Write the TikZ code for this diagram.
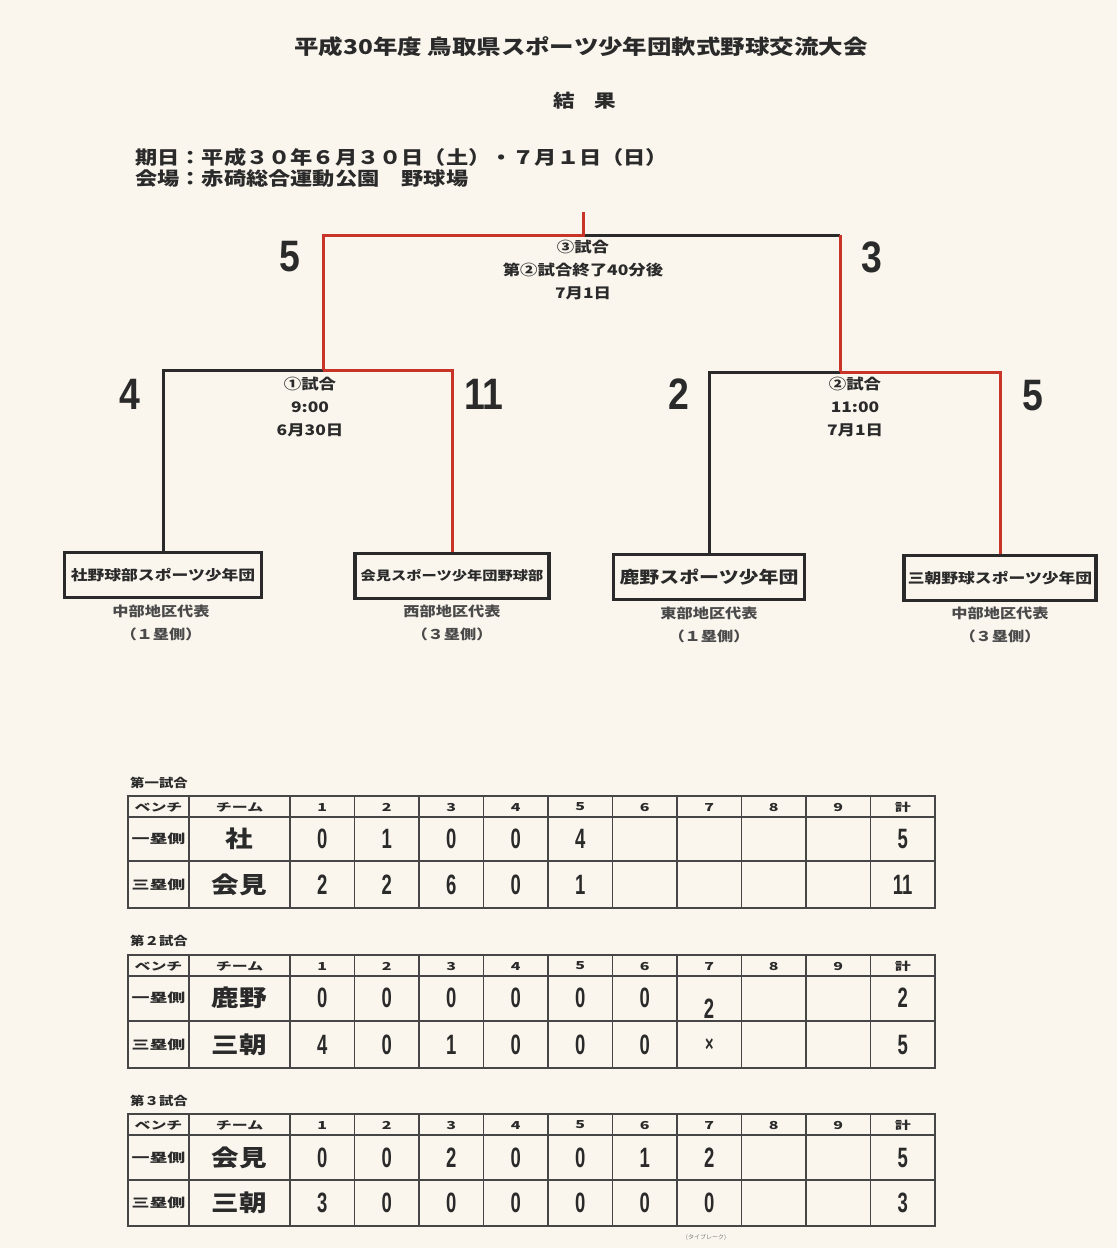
\documentclass[tikz,border=0pt]{standalone}
\usepackage{fontspec}
\setmainfont{Noto Sans CJK JP}
\newfontfamily\jpw{Noto Sans CJK JP}[FakeStretch=1.2]
\newfontfamily\jpx{Noto Sans CJK JP}[FakeStretch=1.45]
\newfontfamily\num{Liberation Sans}[FakeStretch=0.85]
\newfontfamily\tnum{Liberation Sans}[FakeStretch=0.66]
\definecolor{bg}{RGB}{250,246,238}
\definecolor{ink}{RGB}{42,42,42}
\definecolor{redl}{RGB}{200,52,40}
\definecolor{gridc}{RGB}{70,70,70}
\newcommand\fs[2]{\fontsize{#1}{#2}\selectfont}
\tikzset{
  txt/.style={inner sep=0pt, text=ink, align=center},
  loser/.style={line width=3pt, draw=ink},
  winner/.style={line width=3pt, draw=redl},
  teambox/.style={draw=ink, line width=3.2pt, minimum height=45pt, inner sep=0pt, text=ink, font={\jpw\bfseries\fs{14}{16}}},
  score/.style={txt, font={\num\bfseries\fs{44}{48}}},
  glabel/.style={txt, font={\jpw\bfseries\fs{14.5}{23}}},
  region/.style={txt, font={\jpw\bfseries\fs{13.5}{16}}, text=ink!85},
  outer/.style={line width=2.4pt, draw=gridc},
  inner/.style={line width=1.3pt, draw=gridc},
  hd/.style={txt, font={\jpx\bfseries\fs{11}{12}}},
  bench/.style={txt, font={\jpx\bfseries\fs{12.4}{14}}},
  tteam/.style={txt, font={\jpw\bfseries\fs{23}{26}}},
  tdig/.style={txt, font={\tnum\bfseries\fs{28}{30}}},
  tlabel/.style={txt, anchor=west, font={\jpw\bfseries\fs{12}{14}}},
}
\newcommand\scoregrid[5]{% id, top, header line, middle line, bottom
  \draw[inner] (128,#3) -- (935,#3);
  \draw[inner] (128,#4) -- (935,#4);
  \draw[inner] (189,#2) -- (189,#5);
  \draw[inner] (290,#2) -- (290,#5);
  \foreach \k in {1,...,9} {\draw[inner] ({290+64.5*\k},#2) -- ({290+64.5*\k},#5);}
  \draw[outer] (128,#2) rectangle (935,#5);
}
\newcommand\scorehead[2]{% id, y
  \node[hd] (#1h0) at (158.5,#2) {ベンチ};
  \node[hd] (#1hT) at (239.5,#2) {チーム};
  \foreach \s [count=\i] in {1,2,3,4,5,6,7,8,9,計} {\node[hd] (#1h\i) at ({290+64.5*(\i-0.5)},#2) {\s};}
}
\newcommand\scorerow[5]{% id, y, bench, team, scores
  \node[bench] (#1b) at (158.5,#2) {#3};
  \node[tteam] (#1t) at (239.5,#2) {#4};
  \foreach \s [count=\i] in {#5} {\node[tdig] (#1c\i) at ({290+64.5*(\i-0.5)},#2) {\s};}
}
\begin{document}
\begin{tikzpicture}[x=1pt,y=-1pt]
\fill[bg] (0,0) rectangle (1117,1248);
\useasboundingbox (0,0) rectangle (1117,1248);

% headings
\node[txt, font={\jpw\bfseries\fs{20.4}{24}}] (title) at (581,47) {平成30年度 鳥取県スポーツ少年団軟式野球交流大会};
\node[txt, font={\jpw\bfseries\fs{18}{22}}] (result) at (585,101) {結\hspace{20pt}果};
\node[txt, anchor=west, font={\jpw\bfseries\fs{18.5}{21}}] (date) at (135,157) {期日：平成３０年６月３０日（土）・７月１日（日）};
\node[txt, anchor=west, font={\jpw\bfseries\fs{18.5}{21}}] (venue) at (135,179) {会場：赤碕総合運動公園　野球場};

% team boxes
\node[teambox, minimum width=197pt] (b1) at (163,575) {社野球部スポーツ少年団};
\node[teambox, minimum width=194pt, font={\jpw\bfseries\fs{12.7}{15}}] (b2) at (452,576) {会見スポーツ少年団野球部};
\node[teambox, minimum width=191pt, font={\jpw\bfseries\fs{16.6}{19}}] (b3) at (709,577) {鹿野スポーツ少年団};
\node[teambox, minimum width=192pt] (b4) at (1000,578) {三朝野球スポーツ少年団};

\node[region] (r1) at (161,611) {中部地区代表};
\node[region] (s1) at (161,634) {（１塁側）};
\node[region] (r2) at (452,611) {西部地区代表};
\node[region] (s2) at (452,634) {（３塁側）};
\node[region] (r3) at (709,613) {東部地区代表};
\node[region] (s3) at (709,636) {（１塁側）};
\node[region] (r4) at (1000,613) {中部地区代表};
\node[region] (s4) at (1000,636) {（３塁側）};

% bracket
\coordinate (top) at (583,212);
\coordinate (fj) at (583,235);
\coordinate (fl) at (323,235);
\coordinate (fr) at (840,235);
\coordinate (sl) at (323,370);
\coordinate (sr) at (840,372);
\draw[loser] (sl) -| (b1.north);
\draw[winner] (sl) -| (b2.north);
\draw[loser] (sr) -| (b3.north);
\draw[winner] (sr) -| (b4.north);
\draw[loser] (fj) -- (fr);
\draw[winner] (fr) -- (sr);
\draw[winner] (top) -- (fj) -- (fl) -- (sl);

% scores
\node[score] (n5a) at (290,257) {5};
\node[score] (n3a) at (872,257) {3};
\node[score] (n4) at (130,394) {4};
\node[score] (n11) at (484,394) {11};
\node[score] (n2) at (679,394) {2};
\node[score] (n5b) at (1033,396) {5};

% game labels
\node[glabel] (g3) at (583,270) {③試合\\第②試合終了40分後\\7月1日};
\node[glabel] (g1) at (310,407) {①試合\\9:00\\6月30日};
\node[glabel] (g2) at (855,407) {②試合\\11:00\\7月1日};

% table 1
\node[tlabel] (t1lab) at (130,783) {第一試合};
\scoregrid{t1}{796}{817}{861}{908}
\scorehead{t1}{807}
\scorerow{t1a}{839}{一塁側}{社}{0,1,0,0,4,,,,,5}
\scorerow{t1b}{885}{三塁側}{会見}{2,2,6,0,1,,,,,11}

% table 2
\node[tlabel] (t2lab) at (130,941) {第２試合};
\scoregrid{t2}{955}{976}{1021}{1068}
\scorehead{t2}{966}
\scorerow{t2a}{998}{一塁側}{鹿野}{0,0,0,0,0,0,,,,2}
\node[tdig] (t2a7) at (709,1009) {2};
\scorerow{t2b}{1045}{三塁側}{三朝}{4,0,1,0,0,0,{\fs{22}{24}×},,,5}

% table 3
\node[tlabel] (t3lab) at (130,1101) {第３試合};
\scoregrid{t3}{1114}{1135}{1180}{1226}
\scorehead{t3}{1125}
\scorerow{t3a}{1158}{一塁側}{会見}{0,0,2,0,0,1,2,,,5}
\scorerow{t3b}{1203}{三塁側}{三朝}{3,0,0,0,0,0,0,,,3}

\node[txt, font={\fs{6}{7}}, text=ink!60] (tb) at (706,1238) {(タイブレーク)};
\end{tikzpicture}
\end{document}
